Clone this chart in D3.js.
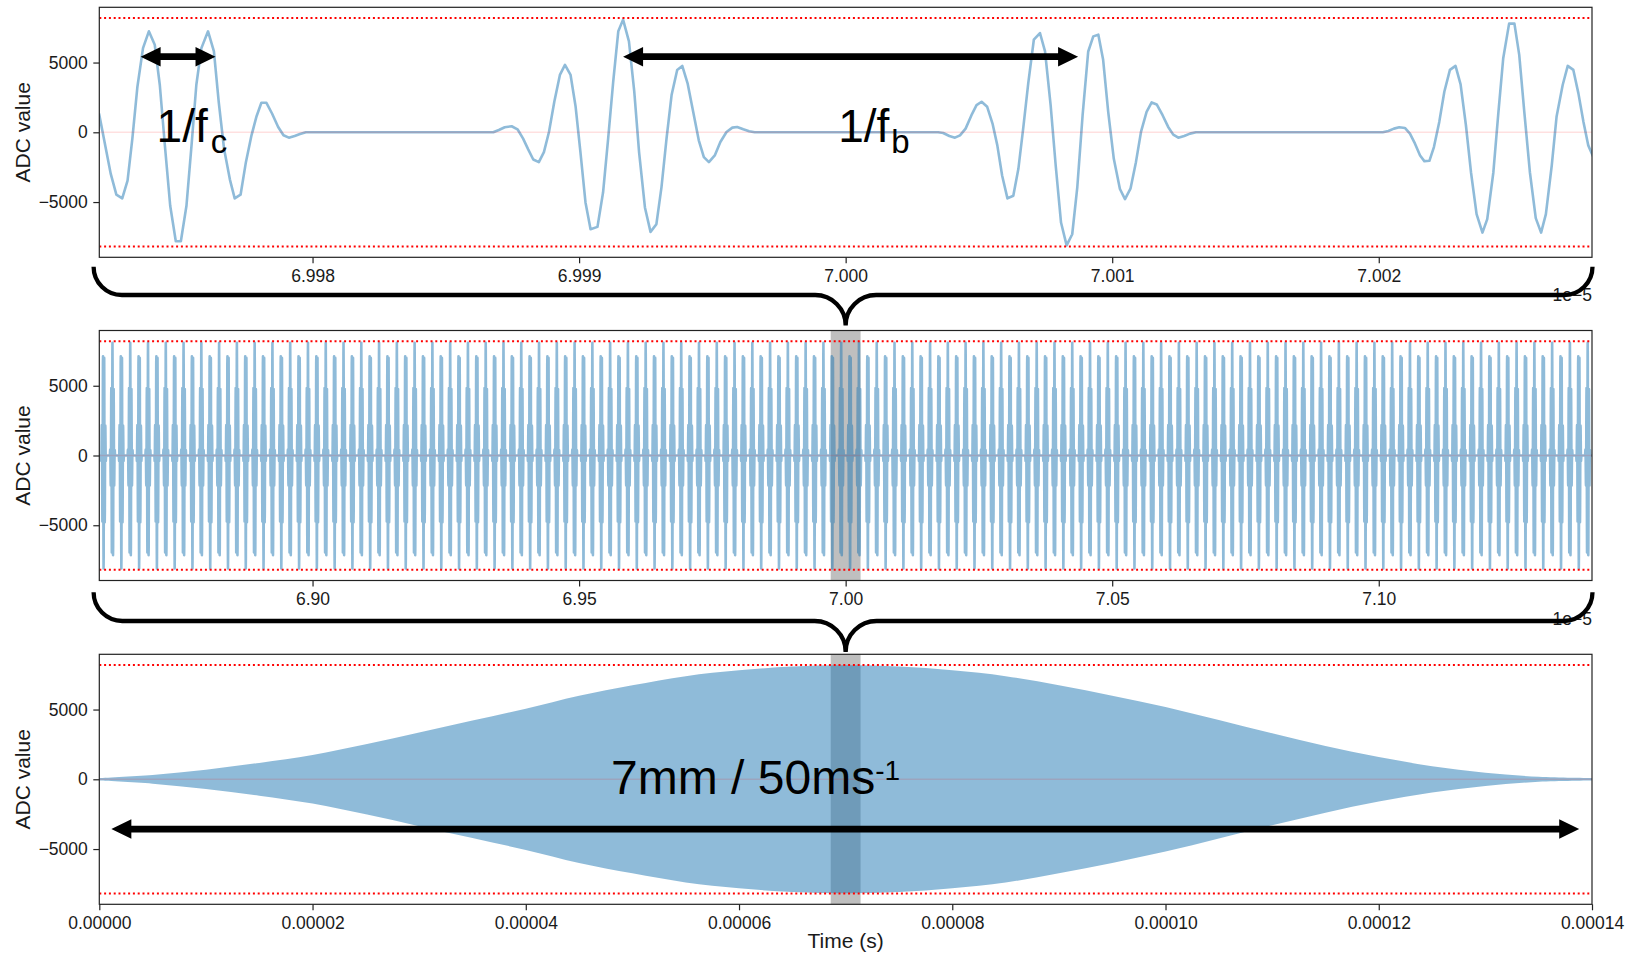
<!DOCTYPE html>
<html>
<head>
<meta charset="utf-8">
<script src="https://cdn.jsdelivr.net/npm/d3@7"></script>
<style>
  html, body { margin: 0; padding: 0; background: #fff; }
  svg { display: block; font-family: "Liberation Sans", Arial, Helvetica, sans-serif; }
</style>
</head>
<body>
<svg id="chart" width="1631" height="956"></svg>
<script>
// ---------------------------------------------------------------
// ADC samples in a 56 ns window centred on t = 70 µs
// (time in ns relative to 70 µs, value in ADC counts)
// ---------------------------------------------------------------
const zoomTimeNs = [
  -28.01,-27.57,-27.36,-27.14,-26.94,-26.76,-26.57,-26.36,-26.14,-25.92,
  -25.73,-25.54,-25.34,-25.13,-24.94,-24.73,-24.54,-24.36,-24.17,-23.92,
  -23.70,-23.52,-23.32,-23.10,-22.92,-22.70,-22.50,-22.29,-22.10,-21.92,
  -21.73,-21.52,-21.29,-21.09,-20.89,-20.67,-20.47,-20.25,
  -13.22,-13.01,-12.79,-12.53,-12.31,-12.10,-11.91,-11.72,-11.51,-11.32,
  -11.13,-10.93,-10.72,-10.53,-10.32,-10.13,-9.95,-9.76,-9.57,-9.31,
  -9.10,-8.91,-8.72,-8.53,-8.35,-8.13,-7.93,-7.75,-7.53,-7.32,
  -7.10,-6.91,-6.72,-6.53,-6.32,-6.13,-5.93,-5.72,-5.51,-5.32,
  -5.13,-4.91,-4.70,-4.47,-4.25,-4.07,-3.84,-3.62,-3.41,
  3.47,3.66,3.89,4.10,4.29,4.50,4.72,4.91,5.10,5.31,
  5.51,5.69,5.87,6.07,6.29,6.48,6.66,6.85,7.06,7.29,
  7.48,7.69,7.88,8.08,8.29,8.50,8.69,8.89,9.10,9.29,
  9.48,9.66,9.85,10.06,10.29,10.48,10.69,10.89,11.08,11.29,
  11.48,11.67,11.89,12.10,12.29,12.48,12.70,12.92,13.14,
  20.15,20.36,20.57,20.77,20.98,21.17,21.36,21.55,21.71,21.90,
  22.07,22.27,22.46,22.67,22.88,23.07,23.27,23.46,23.67,23.89,
  24.07,24.30,24.49,24.67,24.89,25.09,25.27,25.46,25.67,25.89,
  26.09,26.27,26.49,26.67,26.90,27.09,27.30,27.49,27.68,27.86,28.05
];
const zoomAdc = [
  1346,-2981,-4471,-4736,-3462,-457,3269,6034,7236,6274,
  3390,-938,-5265,-7813,-7813,-5265,-938,3390,6034,7236,
  5794,2188,-1178,-3390,-4736,-4471,-2140,-216,1154,2116,
  2116,1346,385,-216,-385,-264,-120,0,
  0,168,361,433,216,-457,-1226,-1947,-2140,-1418,
  24,2188,4111,4832,4111,1827,-1418,-5024,-6950,-6780,
  -4303,-457,3630,7236,8077,6515,2909,-1418,-5385,-7140,
  -6587,-3943,-457,2668,4471,4760,3510,1466,-577,-1779,
  -2140,-1659,-697,24,337,385,216,72,0,
  0,-48,-264,-385,-216,264,1226,1947,2188,1827,
  625,-938,-3101,-4736,-4544,-2620,264,3510,6635,7116,
  5794,1947,-2380,-6467,-8101,-7308,-3943,1226,5794,6875,
  6996,5193,1466,-1899,-4063,-4784,-4015,-2140,24,1466,
  2140,1995,1226,385,-168,-385,-264,-96,0,
  0,96,264,361,313,-96,-817,-1659,-2067,-2043,
  -1058,745,2909,4471,4760,3438,505,-2861,-5866,-7188,
  -6226,-2861,1466,5313,7789,7789,5553,1466,-2861,-6154,
  -7188,-5866,-2380,1106,3390,4760,4471,2789,745,-938,-1779
];

// Burst repetition period 1/fb (ns); consecutive bursts alternate in polarity
const burstPeriodNs = 16.67;
// The two complete bursts of the window above (one full polarity cycle)
const cycleStartNs = -13.3;
const cycleEndNs = 13.2;

// Amplitude envelope of the whole pass (time in µs, ADC counts)
const passTimeUs   = [0, 5, 10, 15, 20, 25, 30, 35, 40, 45, 50, 55, 60, 65, 70,
                      75, 80, 85, 90, 95, 100, 105, 110, 115, 120, 125, 130, 135, 140];
const passEnvelope = [0, 220, 600, 1080, 1650, 2420, 3270, 4120, 4970, 5900, 6650, 7300, 7720, 7990, 8080,
                      7990, 7720, 7300, 6650, 5900, 5090, 4150, 3200, 2300, 1500, 850, 380, 90, 0];

// ADC full-scale limits
const adcLimit = 8192;

// Axis ticks
const yTickValues = [-5000, 0, 5000];
const yTickLabels = ["\u22125000", "0", "5000"];
const zoomTickLabels  = ["6.998", "6.999", "7.000", "7.001", "7.002"];
const burstTickLabels = ["6.90", "6.95", "7.00", "7.05", "7.10"];
const passTickLabels  = ["0.00000", "0.00002", "0.00004", "0.00006", "0.00008", "0.00010", "0.00012", "0.00014"];

// Windows (seconds)
const centreT = 7e-5;
const zoomHalf = 2.8e-8;
const burstHalf = 1.4e-6;
const passRange = [0, 1.4e-4];

// ---------------------------------------------------------------
const svg = d3.select("#chart");
const plotLeft = 99.3, plotRight = 1592;
const panelH = 250;
const panelTops = [7.3, 330.5, 654.3];
const yMax = 8960;
const signalColor = "rgba(31,119,180,0.5)";
const tickFont = 17.5;

const defs = svg.append("defs");

function makeY(top) {
  return d3.scaleLinear().domain([-yMax, yMax]).range([top + panelH, top]);
}

function panel(idx, x, xTickVals, xTickLabels, offsetText) {
  const top = panelTops[idx];
  const y = makeY(top);
  const g = svg.append("g");
  const clipId = "clip" + idx;
  defs.append("clipPath").attr("id", clipId)
    .append("rect").attr("x", plotLeft).attr("y", top)
    .attr("width", plotRight - plotLeft).attr("height", panelH);
  const body = g.append("g").attr("clip-path", `url(#${clipId})`);
  const front = g.append("g");

  // frame
  front.append("rect")
    .attr("x", plotLeft).attr("y", top)
    .attr("width", plotRight - plotLeft).attr("height", panelH)
    .attr("fill", "none").attr("stroke", "#222").attr("stroke-width", 1.2);

  // x axis
  const xa = front.append("g")
    .attr("transform", `translate(0,${top + panelH})`)
    .call(d3.axisBottom(x).tickValues(xTickVals)
      .tickFormat((d, i) => xTickLabels[i]).tickSize(6).tickPadding(6).tickSizeOuter(0));
  xa.select(".domain").remove();
  // y axis
  const ya = front.append("g")
    .attr("transform", `translate(${plotLeft},0)`)
    .call(d3.axisLeft(y).tickValues(yTickValues)
      .tickFormat((d, i) => yTickLabels[i]).tickSize(6).tickPadding(5.5).tickSizeOuter(0));
  ya.select(".domain").remove();
  [xa, ya].forEach(a => {
    a.attr("font-family", null).attr("font-size", tickFont);
    a.selectAll("line").attr("stroke", "#222").attr("stroke-width", 1.2);
    a.selectAll("text").attr("fill", "#1a1a1a");
  });

  // y label
  g.append("text")
    .attr("transform", `translate(30.4,${top + panelH / 2}) rotate(-90)`)
    .attr("text-anchor", "middle").attr("font-size", 21).attr("fill", "#1a1a1a")
    .text("ADC value");

  if (offsetText) {
    g.append("text").attr("x", plotRight).attr("y", top + panelH + 44)
      .attr("text-anchor", "end").attr("font-size", tickFont).attr("fill", "#1a1a1a")
      .text(offsetText);
  }
  return { g, body, front, y, top };
}

function refLines(p, x) {
  const [x0, x1] = x.range();
  [adcLimit, -adcLimit].forEach(v => {
    p.body.append("line")
      .attr("x1", x0).attr("x2", x1).attr("y1", p.y(v)).attr("y2", p.y(v))
      .attr("stroke", "#ff0000").attr("stroke-width", 2).attr("stroke-dasharray", "2,2.8");
  });
  p.body.append("line")
    .attr("x1", x0).attr("x2", x1).attr("y1", p.y(0)).attr("y2", p.y(0))
    .attr("stroke", "rgba(255,0,0,0.12)").attr("stroke-width", 1.4);
}

function span(p, x, t0, t1) {
  p.body.append("rect")
    .attr("x", x(t0)).attr("width", x(t1) - x(t0))
    .attr("y", p.top).attr("height", panelH)
    .attr("fill", "rgba(128,128,128,0.5)");
}

// ---------------- Panel 1: 56 ns around 70 µs ----------------
const xZoom = d3.scaleLinear().domain([centreT - zoomHalf, centreT + zoomHalf]).range([plotLeft, plotRight]);
const p1 = panel(0, xZoom, zoomTickLabels.map(s => +s * 1e-5), zoomTickLabels, "1e\u22125");
const zoomPts = zoomTimeNs.map((t, i) => ({ t: centreT + t * 1e-9, v: zoomAdc[i] }));
p1.body.append("path")
  .datum(zoomPts)
  .attr("d", d3.line().x(d => xZoom(d.t)).y(d => p1.y(d.v)))
  .attr("fill", "none").attr("stroke", signalColor).attr("stroke-width", 2.6)
  .attr("stroke-linejoin", "round");
refLines(p1, xZoom);

// ---------------- Panel 2: 2.8 µs around 70 µs ----------------
const xBurst = d3.scaleLinear().domain([centreT - burstHalf, centreT + burstHalf]).range([plotLeft, plotRight]);
const p2 = panel(1, xBurst, burstTickLabels.map(s => +s * 1e-5), burstTickLabels, "1e\u22125");
span(p2, xBurst, centreT - zoomHalf, centreT + zoomHalf);
// one polarity cycle (two bursts) taken from the samples above, repeated every 2/fb
const cycleNs = 2 * burstPeriodNs;
const cycleSamples = zoomTimeNs.map((t, i) => ({ t, v: zoomAdc[i] }))
  .filter(d => d.t >= cycleStartNs && d.t <= cycleEndNs);
const halfNs = burstHalf * 1e9 + 20;
const burstPts = [];
const kMin = Math.floor((-halfNs - cycleEndNs) / cycleNs);
const kMax = Math.ceil((halfNs - cycleStartNs) / cycleNs);
for (let k = kMin; k <= kMax; k++) {
  cycleSamples.forEach(d => {
    const t = d.t + k * cycleNs;
    if (t >= -halfNs && t <= halfNs) burstPts.push({ t: centreT + t * 1e-9, v: d.v });
  });
}
p2.body.append("path")
  .datum(burstPts)
  .attr("d", d3.line().x(d => xBurst(d.t)).y(d => p2.y(d.v)))
  .attr("fill", "none").attr("stroke", signalColor).attr("stroke-width", 2.6)
  .attr("stroke-linejoin", "round");
refLines(p2, xBurst);

// ---------------- Panel 3: full pass ----------------
const xPass = d3.scaleLinear().domain(passRange).range([plotLeft, plotRight]);
const p3 = panel(2, xPass, passTickLabels.map(s => +s), passTickLabels, null);
span(p3, xPass, centreT - burstHalf, centreT + burstHalf);
const envPts = passTimeUs.map((t, i) => ({ t: t * 1e-6, v: passEnvelope[i] }));
p3.body.append("path")
  .datum(envPts)
  .attr("d", d3.area().curve(d3.curveCatmullRom.alpha(0.5))
    .x(d => xPass(d.t))
    .y0(d => p3.y(-d.v) + 1.3)
    .y1(d => p3.y(d.v) - 1.3))
  .attr("fill", signalColor);
refLines(p3, xPass);

svg.append("text")
  .attr("x", (plotLeft + plotRight) / 2).attr("y", 947.5)
  .attr("text-anchor", "middle").attr("font-size", 21).attr("fill", "#1a1a1a")
  .text("Time (s)");

// ---------------- Annotations ----------------
const ann = svg.append("g").attr("font-family", "Liberation Sans, Arial, sans-serif");

function doubleArrow(x1, x2, y) {
  const hl = 20, hw = 9.7, st = 3.4;
  const d = `M${x1},${y} L${x1 + hl},${y - hw} L${x1 + hl},${y - st} L${x2 - hl},${y - st} ` +
            `L${x2 - hl},${y - hw} L${x2},${y} L${x2 - hl},${y + hw} L${x2 - hl},${y + st} ` +
            `L${x1 + hl},${y + st} L${x1 + hl},${y + hw} Z`;
  ann.append("path").attr("d", d).attr("fill", "#000");
}

function brace(x0, x1, xc, yTop, yLine, rEnd, rMid) {
  const d = `M${x0},${yTop} A${rEnd},${rEnd} 0 0 0 ${x0 + rEnd},${yLine} ` +
            `L${xc - rMid},${yLine} A${rMid},${rMid} 0 0 1 ${xc},${yLine + rMid} ` +
            `A${rMid},${rMid} 0 0 1 ${xc + rMid},${yLine} ` +
            `L${x1 - rEnd},${yLine} A${rEnd},${rEnd} 0 0 0 ${x1},${yTop}`;
  ann.append("path").attr("d", d).attr("fill", "none")
    .attr("stroke", "#000").attr("stroke-width", 4.3);
}

const ns = v => centreT + v * 1e-9;
// carrier period
doubleArrow(xZoom(ns(-26.45)), xZoom(ns(-23.64)), p1.y(5420));
// burst period
doubleArrow(xZoom(ns(-8.35)), xZoom(ns(8.72)), p1.y(5420));

function subText(x, y, main, sub, size, subSize, dy, dx) {
  const t = ann.append("text").attr("x", x).attr("y", y)
    .attr("font-size", size).attr("fill", "#000");
  t.append("tspan").text(main);
  t.append("tspan").attr("font-size", subSize).attr("dy", dy).attr("dx", dx).text(sub);
}
subText(xZoom(ns(-25.85)), p1.y(-674), "1/f", "c", 46, 33, 11, 3);
subText(xZoom(ns(-0.28)), p1.y(-674), "1/f", "b", 46, 33, 11, 2);

// pass duration
doubleArrow(xPass(1.13e-6), xPass(138.8e-6), p3.y(-3565));
subText(xPass(48.0e-6), p3.y(-1054), "7mm / 50ms", "-1", 48, 28, -14, 0);

// braces linking each window to the one above it
brace(plotLeft - 5.7, plotRight + 0.5, xBurst(centreT), 266.7, 295, 28.3, 30.5);
brace(plotLeft - 5.7, plotRight + 0.5, xPass(centreT), 592.3, 621, 28.7, 31);
</script>
</body>
</html>
